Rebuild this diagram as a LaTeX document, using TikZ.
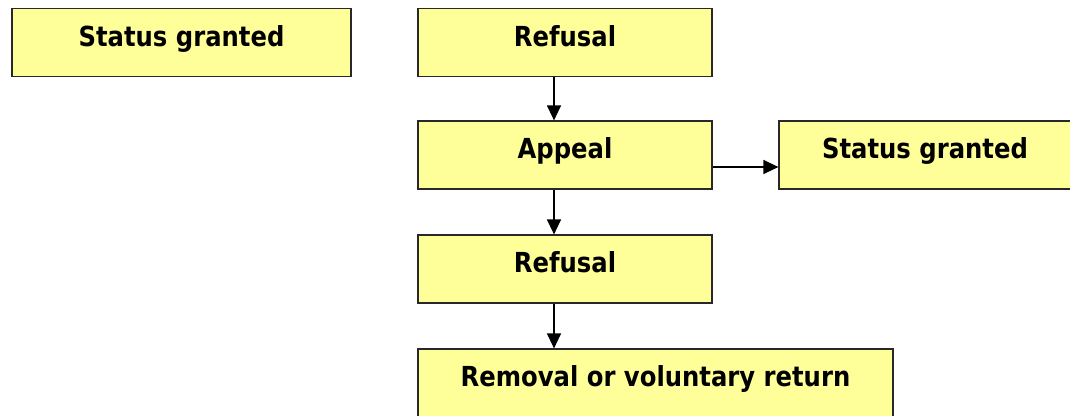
\documentclass[tikz,border=0pt]{standalone}
\usepackage{fontspec}
\newfontfamily\lblfont{DejaVu Sans}[FakeStretch=0.88]
\usetikzlibrary{arrows.meta}
\definecolor{boxfill}{RGB}{255,255,153}
\definecolor{boxline}{RGB}{40,40,40}
\begin{document}
\begin{tikzpicture}[x=1pt,y=-1pt,
  box/.style={draw=boxline, fill=boxfill, line width=1.2pt, rectangle, inner sep=0pt, minimum height=68pt},
  lbl/.style={font=\lblfont\bfseries\fontsize{27.6}{30}\selectfont, inner sep=0pt, anchor=base},
  arr/.style={line width=1.3pt, -{Triangle[length=15pt,width=14pt]}}]
\useasboundingbox (0,0) rectangle (1070,415);
\node[box, minimum width=339pt] (sg1) at (181.5,42.5) {};
\node[box, minimum width=294pt] (ref1) at (565,42.5) {};
\node[box, minimum width=294pt] (appeal) at (565,155) {};
\node[box, minimum width=292pt] (sg2) at (925,155) {};
\node[box, minimum width=294pt] (ref2) at (565,269) {};
\node[box, minimum width=475pt] (removal) at (655.5,383) {};
\node[lbl] (tsg1) at ([yshift=-38.5pt]sg1.north) {Status granted};
\node[lbl] (tref1) at ([yshift=-38.5pt]ref1.north) {Refusal};
\node[lbl] (tappeal) at ([yshift=-38.5pt]appeal.north) {Appeal};
\node[lbl] (tsg2) at ([yshift=-38.5pt]sg2.north) {Status granted};
\node[lbl] (tref2) at ([yshift=-38.5pt]ref2.north) {Refusal};
\node[lbl] (tremoval) at ([yshift=-38.5pt]removal.north) {Removal or voluntary return};
\coordinate (ax) at (554,0);
\coordinate (ay) at (0,167);
\draw[arr] (ref1.south -| ax) -- (appeal.north -| ax);
\draw[arr] (appeal.south -| ax) -- (ref2.north -| ax);
\draw[arr] (ref2.south -| ax) -- (removal.north -| ax);
\draw[arr] (appeal.east |- ay) -- (sg2.west |- ay);
\end{tikzpicture}
\end{document}
